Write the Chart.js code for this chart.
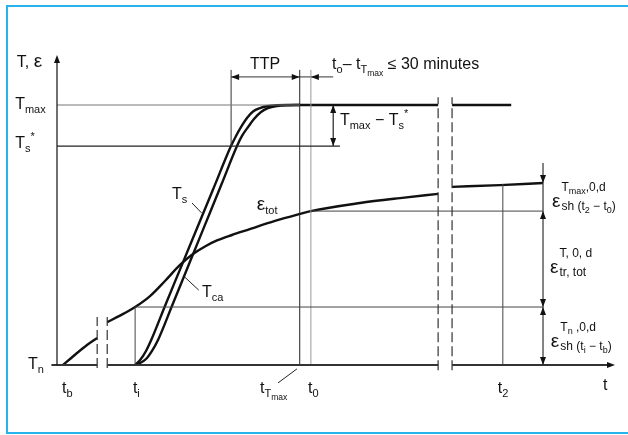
<!DOCTYPE html>
<html>
<head>
<meta charset="utf-8">
<script src="https://cdn.jsdelivr.net/npm/chart.js@4.4.0/dist/chart.umd.min.js"></script>
<style>
html, body { margin: 0; padding: 0; background: #fff; overflow: hidden; }
#wrap { position: relative; width: 628px; height: 435px; }
#frame { position: absolute; left: 6px; top: 5px; width: 700px; height: 429px; border: 2.5px solid #27b4ea; box-sizing: border-box; }
canvas { position: absolute; left: 0; top: 0; }
</style>
</head>
<body>
<div id="wrap">
  <div id="frame"></div>
  <canvas id="chart" width="628" height="435"></canvas>
</div>
<script>
// Unités du schéma : T_n = 0, T_max = 100, axe t de 0 à 100
const T_N = 0, T_S_STAR = 84.2, T_MAX = 100;
const tB = 1.1, tI = 14.0, tTTP = 31.2, tTmax = 43.5, t0 = 45.5, t2 = 79.9;
const breakA = [7.2, 9.0];     // coupure près de t_b
const breakB = [68.3, 70.8];   // coupure après t_0
const tDim = 87.1;             // ligne de cote à droite
const tPlateauEnd = 81.4;
const EPS_TI = 22.3, EPS_T0 = 59.2, EPS_T2 = 70.0;

const tsCurve = [
    [14.0, 0], [14.9, 1.9], [15.95, 5.4], [17.0, 10.2], [19.35, 22.7],
    [22.0, 36.5], [25.0, 52.1], [28.0, 67.7], [31.18, 84.2], [32.08, 88.1],
    [32.97, 91.5], [34.05, 95.0], [35.13, 97.5], [36.38, 98.8], [37.63, 99.5],
    [39.43, 99.9], [41.22, 100], [43.55, 100]
];
const tcaCurve = [
    [14.0, 0], [15.23, 1.15], [16.13, 2.7], [17.03, 5.4], [18.1, 9.6],
    [20.6, 22.7], [23.5, 38.0], [26.5, 53.8], [29.5, 69.6], [32.26, 84.2],
    [33.15, 88.1], [34.23, 91.5], [35.3, 94.6], [36.56, 97.3], [37.8, 98.8],
    [39.43, 99.6], [41.4, 99.9], [43.55, 100]
];
const epsStart = [[1.08, 0], [2.33, 2.3], [3.58, 4.6], [5.38, 7.7], [7.2, 10.4]];
const epsMid = [
    [9.0, 16.5], [11.29, 19.0], [14.0, 22.3], [16.67, 26.5], [19.35, 32.3],
    [22.04, 38.5], [24.37, 42.7], [26.52, 45.6], [28.67, 47.9], [31.36, 50.0],
    [34.05, 51.9], [39.07, 55.4], [43.55, 58.1], [45.5, 59.2], [54.3, 62.3],
    [61.47, 64.2], [68.3, 65.8]
];
const epsEnd = [[70.8, 68.5], [79.4, 69.2], [87.1, 70.0]];

function line(points, width, color, dash, smooth) {
    return {
        data: points.map(p => ({ x: p[0], y: p[1] })),
        showLine: true,
        borderColor: color,
        borderWidth: width,
        borderDash: dash || [],
        pointRadius: 0,
        cubicInterpolationMode: smooth ? 'monotone' : 'default',
        tension: 0,
        fill: false,
        clip: false
    };
}

const dashBreak = [10, 4];
const datasets = [
    // axes
    line([[0, -0.3], [0, 118]], 1.3, '#222'),
    line([[-1, 0], [breakA[0], 0]], 2.2, '#333'),
    line([[breakA[1], 0], [breakB[0], 0]], 2.2, '#333'),
    line([[breakB[1], 0], [99, 0]], 2.2, '#333'),
    // coupures
    line([[breakA[0], -1.2], [breakA[0], 18.5]], 1.2, '#333', dashBreak),
    line([[breakA[1], -1.2], [breakA[1], 18.5]], 1.2, '#333', dashBreak),
    line([[breakB[0], -2], [breakB[0], 103]], 1.2, '#333', dashBreak),
    line([[breakB[1], -2], [breakB[1], 103]], 1.2, '#333', dashBreak),
    // lignes de repère
    line([[0, T_MAX], [tTmax, T_MAX]], 1, '#777'),
    line([[0, T_S_STAR], [50.7, T_S_STAR]], 1.2, '#222'),
    line([[tI, EPS_TI], [tDim, EPS_TI]], 1, '#444'),
    line([[t0, EPS_T0], [tDim, EPS_T0]], 1, '#444'),
    line([[tI, 0], [tI, EPS_TI]], 1, '#444'),
    line([[tTTP, T_S_STAR], [tTTP, 113.5]], 1, '#333'),
    line([[tTmax, 0], [tTmax, 113.5]], 1, '#222'),
    line([[t0, 0], [t0, 113.5]], 1, '#999'),
    line([[t2, 0], [t2, 69.6]], 1, '#444'),
    line([[tDim, 0], [tDim, 77.7]], 1.2, '#333'),
    line([[49.5, T_S_STAR], [49.5, T_MAX]], 1.2, '#222'),
    line([[tTTP, 110.8], [49.5, 110.8]], 1, '#333'),
    // traits de renvoi
    line([[24.2, 62.3], [25.9, 58.5]], 1, '#222'),
    line([[22.9, 33.8], [25.4, 28.8]], 1, '#222'),
    line([[39.6, -6.9], [43.0, -1.5]], 1, '#222'),
    // courbes
    line(tsCurve, 2.4, '#111', null, true),
    line(tcaCurve, 2.4, '#111', null, true),
    line([[tTmax, T_MAX], [breakB[0], T_MAX]], 2.4, '#111'),
    line([[breakB[1], T_MAX], [tPlateauEnd, T_MAX]], 2.4, '#111'),
    line(epsStart, 2.4, '#111', null, true),
    line(epsMid, 2.4, '#111', null, true),
    line(epsEnd, 2.4, '#111', null, true)
];

const arrowHeads = [
    [0, 119.2, 'up'], [100, 0, 'right'],
    [tTTP, 110.8, 'left'], [tTmax, 110.8, 'right'], [t0, 110.8, 'left'],
    [49.5, T_MAX, 'up'], [49.5, T_S_STAR, 'down'],
    [tDim, EPS_T2, 'down'], [tDim, EPS_T0, 'up'],
    [tDim, EPS_TI, 'down'], [tDim, EPS_TI, 'up'], [tDim, T_N, 'down']
];

const fontFam = '"Liberation Sans", Arial, Helvetica, sans-serif';
const styles = {
    n: { size: 16, dy: 0 },
    e: { size: 19, dy: 0 },
    b: { size: 11, dy: 4 },
    bb: { size: 8.5, dy: 7 },
    p: { size: 11, dy: -8 },
    sp: { size: 12, dy: -16 },
    spb: { size: 9, dy: -13 },
    sb: { size: 12, dy: 3 },
    sbb: { size: 9, dy: 6 }
};

const texts = [
    { x: -7.2, y: 114.6, parts: [['T, ', 'n'], ['ε', 'e']] },
    { x: -7.5, y: 98.5, parts: [['T', 'n'], ['max', 'b']] },
    { x: -7.5, y: 83.3, parts: [['T', 'n'], ['s', 'b'], ['*', 'p']] },
    { x: -5.2, y: -1.35, parts: [['T', 'n'], ['n', 'b']] },
    { x: 0.9, y: -10.6, parts: [['t', 'n'], ['b', 'b']] },
    { x: 13.6, y: -10.6, parts: [['t', 'n'], ['i', 'b']] },
    { x: 36.4, y: -10.6, parts: [['t', 'n'], ['T', 'b'], ['max', 'bb']] },
    { x: 45.0, y: -10.6, parts: [['t', 'n'], ['0', 'b']] },
    { x: 79.0, y: -10.6, parts: [['t', 'n'], ['2', 'b']] },
    { x: 97.85, y: -9.5, parts: [['t', 'n']] },
    { x: 20.6, y: 64.0, parts: [['T', 'n'], ['s', 'b']] },
    { x: 35.8, y: 59.6, parts: [['ε', 'e'], ['tot', 'b']] },
    { x: 26.0, y: 26.3, parts: [['T', 'n'], ['ca', 'b']] },
    { x: 34.6, y: 113.8, parts: [['TTP', 'n']] },
    { x: 49.3, y: 113.8, parts: [['t', 'n'], ['o', 'b'], ['– t', 'n'], ['T', 'b'], ['max', 'bb'], [' ≤ 30 minutes', 'n']] },
    { x: 50.7, y: 92.5, parts: [['T', 'n'], ['max', 'b'], [' − T', 'n'], ['s', 'b'], ['*', 'p']] },
    { x: 88.7, y: 60.8, parts: [['ε', 'e']],
      sup: [['T', 'sp'], ['max', 'spb'], [',0,d', 'sp']],
      sub: [['sh (t', 'sb'], ['2', 'sbb'], [' − t', 'sb'], ['0', 'sbb'], [')', 'sb']] },
    { x: 88.35, y: 35.4, parts: [['ε', 'e']],
      sup: [['T, 0, d', 'sp']],
      sub: [['tr, tot', 'sb']] },
    { x: 88.5, y: 6.9, parts: [['ε', 'e']],
      sup: [['T', 'sp'], ['n', 'spb'], [' ,0,d', 'sp']],
      sub: [['sh (t', 'sb'], ['i', 'sbb'], [' − t', 'sb'], ['b', 'sbb'], [')', 'sb']] }
];

function drawParts(ctx, x, y, parts) {
    let cx = x;
    parts.forEach(([txt, st]) => {
        const s = styles[st];
        ctx.font = s.size + 'px ' + fontFam;
        ctx.fillText(txt, cx, y + s.dy);
        cx += ctx.measureText(txt).width;
    });
    return cx;
}

function drawHead(ctx, px, py, dir) {
    const len = 8, half = 3;
    ctx.beginPath();
    ctx.moveTo(px, py);
    if (dir === 'up') { ctx.lineTo(px - half, py + len); ctx.lineTo(px + half, py + len); }
    if (dir === 'down') { ctx.lineTo(px - half, py - len); ctx.lineTo(px + half, py - len); }
    if (dir === 'left') { ctx.lineTo(px + len, py - half); ctx.lineTo(px + len, py + half); }
    if (dir === 'right') { ctx.lineTo(px - len, py - half); ctx.lineTo(px - len, py + half); }
    ctx.closePath();
    ctx.fill();
}

const annotations = {
    id: 'annotations',
    afterDatasetsDraw(chart) {
        const ctx = chart.ctx;
        const xs = chart.scales.x, ys = chart.scales.y;
        ctx.save();
        ctx.fillStyle = '#111';
        arrowHeads.forEach(([x, y, dir]) => {
            drawHead(ctx, xs.getPixelForValue(x), ys.getPixelForValue(y), dir);
        });
        ctx.textBaseline = 'alphabetic';
        ctx.textAlign = 'left';
        texts.forEach(t => {
            const px = xs.getPixelForValue(t.x), py = ys.getPixelForValue(t.y);
            const end = drawParts(ctx, px, py, t.parts);
            if (t.sup) drawParts(ctx, end + 1, py, t.sup);
            if (t.sub) drawParts(ctx, end + 1, py, t.sub);
        });
        ctx.restore();
    }
};

new Chart(document.getElementById('chart'), {
    type: 'scatter',
    data: { datasets: datasets },
    options: {
        responsive: false,
        animation: false,
        layout: { padding: { left: 57, right: 13, top: 105, bottom: 70 } },
        scales: {
            x: { type: 'linear', min: 0, max: 100, display: false },
            y: { type: 'linear', min: 0, max: 100, display: false }
        },
        plugins: {
            legend: { display: false },
            tooltip: { enabled: false }
        }
    },
    plugins: [annotations]
});
</script>
</body>
</html>
